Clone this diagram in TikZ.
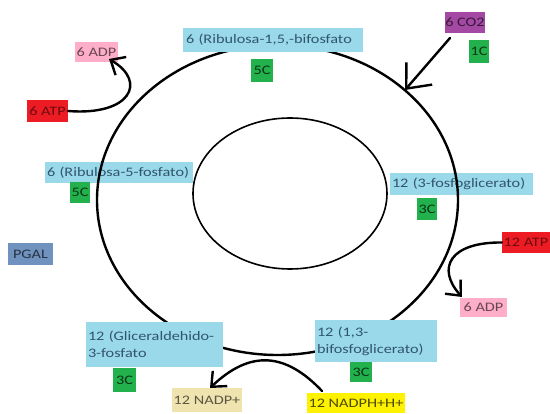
\documentclass[tikz,border=0pt]{standalone}
\usepackage{fontspec}
\setmainfont{Carlito}
\newfontfamily\lblfont[FakeStretch=1.25]{Carlito}
\usetikzlibrary{arrows.meta,calc}
\definecolor{lblue}{RGB}{153,217,234}
\definecolor{lbluetext}{RGB}{50,85,110}
\definecolor{pgreen}{RGB}{34,177,76}
\definecolor{ppurple}{RGB}{163,73,164}
\definecolor{pred}{RGB}{237,28,36}
\definecolor{ppink}{RGB}{255,174,201}
\definecolor{pslate}{RGB}{112,146,190}
\definecolor{pbeige}{RGB}{239,228,176}
\definecolor{pyellow}{RGB}{255,242,0}
\begin{document}
\begin{tikzpicture}[x=1pt,y=-1pt, line cap=round, line join=round,
  every node/.style={font=\lblfont\fontsize{13}{17}\selectfont, inner sep=0pt, outer sep=0pt},
  blk/.style={fill=lblue, text=lbluetext, anchor=north west, align=left, inner xsep=2pt},
  tag/.style={anchor=north west, align=center},
  gtag/.style={tag, fill=pgreen, text=pgreen!30!black},
  cyc/.style={line width=2.4pt},
  flow/.style={line width=2.4pt, -{Straight Barb[length=12pt,width=21pt]}},
  bigflow/.style={line width=2.4pt, -{Straight Barb[length=20pt,width=34pt]}}]

\fill[white] (0,0) rectangle (550,414);
\useasboundingbox (0,0) rectangle (550,414);

\coordinate (cc) at (277.5,200);
\coordinate (ic) at (290,193.5);
\draw[cyc] (cc) ellipse [x radius=180.5, y radius=155];
\draw[line width=1.6pt] (ic) ellipse [x radius=97, y radius=75.5];

% labels
\node[blk, text width=174pt, minimum height=24pt, inner xsep=3pt] (r15) at (183,28) {\mbox{6 (Ribulosa-1,5,-bifosfato}};
\node[gtag, minimum width=22pt, minimum height=23pt] (c5a) at (251,59) {5C};
\node[tag, fill=ppurple, text=ppurple!35!black, minimum width=40pt, minimum height=21pt] (co2) at (445,12) {6 CO2};
\node[gtag, minimum width=20pt, minimum height=23pt] (c1) at (469,40) {1C};
\node[tag, fill=ppink, text=ppink!40!black, minimum width=43pt, minimum height=20pt] (adpa) at (75,42) {6 ADP};
\node[tag, fill=pred, text=pred!45!black, minimum width=41pt, minimum height=22pt] (atpa) at (27,100) {6 ATP};
\node[blk, text width=144pt, minimum height=21pt] (r5p) at (45,162) {\mbox{6 (Ribulosa-5-fosfato)}};
\node[gtag, minimum width=20pt, minimum height=21pt] (c5b) at (70,182) {5C};
\node[tag, fill=pslate, text=pslate!35!black, minimum width=45pt, minimum height=22pt] (pgal) at (8,243) {PGAL};
\node[blk, text width=139pt, minimum height=22pt] (pga) at (390,173) {\mbox{12 (3-fosfoglicerato)}};
\node[gtag, minimum width=20pt, minimum height=22pt] (c3a) at (417,198) {3C};
\node[tag, fill=pred, text=pred!45!black, minimum width=48pt, minimum height=21pt] (atpb) at (502,232) {12 ATP};
\node[tag, fill=ppink, text=ppink!40!black, minimum width=47pt, minimum height=19pt] (adpb) at (460,298) {6 ADP};
\node[blk, text width=133pt, minimum height=45pt] (gap) at (86,322) {\mbox{12 (Gliceraldehido-}\\\mbox{3-fosfato}};
\node[gtag, minimum width=23pt, minimum height=24pt] (c3b) at (113,368) {3C};
\node[tag, fill=pbeige, text=pbeige!38!black, minimum width=70pt, minimum height=24pt] (nadp) at (172,388) {12 NADP+};
\node[blk, text width=118pt, minimum height=42pt] (bpg) at (315,320) {\mbox{12 (1,3-}\\\mbox{bifosfoglicerato)}};
\node[gtag, minimum width=22pt, minimum height=20pt] (c3c) at (350,362) {3C};
\node[tag, fill=pyellow, text=pyellow!30!black, minimum width=98pt, minimum height=20pt] (nadph) at (307,393) {12 NADPH+H+};

% cycle line visible over the side labels
\begin{scope}
\clip (r5p.north west) rectangle (r5p.south east);
\draw[cyc] (cc) ellipse [x radius=180.5, y radius=155];
\end{scope}
\begin{scope}
\clip (pga.north west) rectangle (pga.south east);
\draw[cyc] (cc) ellipse [x radius=180.5, y radius=155];
\end{scope}

% connectors
\coordinate (co2tip) at (405,90);
\draw[bigflow] ($(co2.south west)+(5,5)$) -- (co2tip);
\draw[flow] (atpa.east) .. controls (130,116) and (148,82) .. ($(adpa.south east)+(-9,-3)$);
\draw[flow] (atpb.west) .. controls (450,242) and (436,268) .. ($(adpb.north west)+(2,-1)$);
\draw[flow] ($(nadph.north west)+(15,-2)$) .. controls (285,352) and (250,350) .. ($(nadp.north)+(3,0)$);
\end{tikzpicture}
\end{document}
